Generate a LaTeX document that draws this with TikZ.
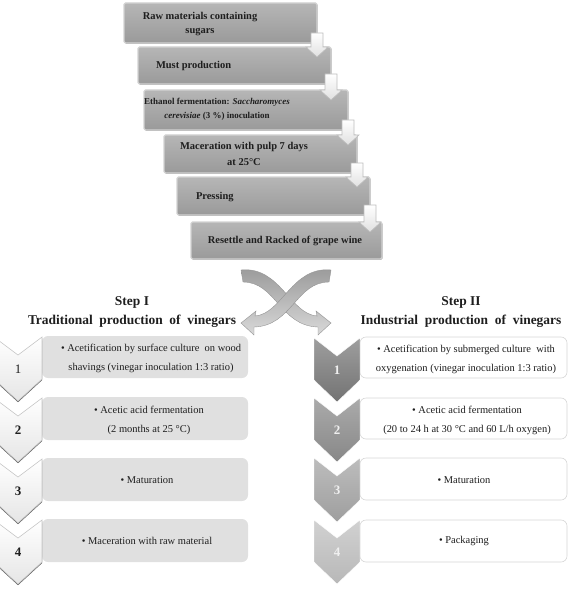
\documentclass[tikz,border=0pt]{standalone}
\usepackage{fontspec}
\setmainfont{Liberation Serif}
\usetikzlibrary{calc,shadows}
\definecolor{textc}{HTML}{1E1E1E}
\definecolor{tbtop}{HTML}{B6B6B6}
\definecolor{tbbot}{HTML}{9A9A9A}
\definecolor{tbborder}{HTML}{D2D2D2}
\definecolor{lboxc}{HTML}{E0E0E0}
\definecolor{rboxd}{HTML}{D6D6D6}
\definecolor{arrd}{HTML}{BDBDBD}
\newcommand\widesp{\spaceskip=0.5em\relax}
\newcommand\stairarrow[2]{%
 \coordinate (#1top) at ($(#1.south east)+(0,-10)$);
 \coordinate (#1tip) at ($(#1.south east |- #2.north)+(0,10)$);
 \path[stairarr] ($(#1top)+(-6,0)$) -- ($(#1top)+(6,0)$) -- ($(#1tip)+(6,-10)$) -- ($(#1tip)+(11,-10)$) -- (#1tip) -- ($(#1tip)+(-11,-10)$) -- ($(#1tip)+(-6,-10)$) -- cycle;}
% #1 name, #2 centre x, #3 top y, #4 half width, #5 style, #6 number style, #7 text
\newcommand\chevronstep[7]{%
 \path[#5] ({#2-#4},#3) -- (#2,{#3+18}) -- ({#2+#4},#3) -- ({#2+#4},{#3+42}) -- (#2,{#3+64}) -- ({#2-#4},{#3+42}) -- cycle;
 \node[#6] (#1) at (#2,{#3+32}) {#7};}
\begin{document}
\begin{tikzpicture}[x=1bp,y=-1bp,
  every node/.style={outer sep=0pt},
  topbox/.style={rectangle, rounded corners=1.5bp, draw=tbborder, line width=1.2bp, top color=tbtop, bottom color=tbbot, anchor=north west, drop shadow={shadow xshift=0.6bp, shadow yshift=-0.8bp, fill=black!45, opacity=0.8}},
  toptext/.style={font=\fontsize{10.5}{15}\selectfont\bfseries, align=center, text=textc, inner sep=0pt},
  stairarr/.style={top color=white, bottom color=black!12, draw=arrd, line width=0.6bp},
  headtext/.style={font=\fontsize{13.5}{20}\selectfont\bfseries, align=center, text=textc, inner sep=0pt},
  lbox/.style={rectangle, rounded corners=6bp, fill=lboxc, anchor=north west},
  rbox/.style={rectangle, rounded corners=6bp, fill=white, draw=rboxd, line width=0.6bp, anchor=north west},
  bodytext/.style={font=\fontsize{10.5}{19}\selectfont, align=center, text=textc, inner sep=0pt},
  lchev/.style={top color=white, bottom color=black!10, draw=black!22, line width=0.6bp, drop shadow={shadow xshift=0bp, shadow yshift=-1.2bp, fill=black!65, opacity=1}},
  lnum/.style={font=\fontsize{13}{13}\selectfont, text=textc, inner sep=0pt},
  lnumb/.style={lnum, font=\fontsize{13}{13}\selectfont\bfseries},
  rchev/.style={draw=white, line width=0.4bp},
  rnum/.style={font=\fontsize{13}{13}\selectfont\bfseries, text=black!6, inner sep=0pt},
  crossarr/.style={top color=black!40, bottom color=black!15, draw=black!42, line width=0.4bp}
]
\useasboundingbox (0,0) rectangle (569,593);
\clip (0,0) rectangle (569,593);
% top staircase boxes
\node[topbox, minimum width=193bp, minimum height=40bp] (b1) at (124,3) {};
\node[topbox, minimum width=193bp, minimum height=37bp] (b2) at (138,47) {};
\node[topbox, minimum width=204bp, minimum height=40bp] (b3) at (144,90) {};
\node[topbox, minimum width=193bp, minimum height=38bp] (b4) at (164,135) {};
\node[topbox, minimum width=193bp, minimum height=38bp] (b5) at (177,177) {};
\node[topbox, minimum width=191bp, minimum height=37bp] (b6) at (191,222) {};
\node[toptext] (t1) at (200,24) {Raw materials containing\\sugars};
\node[toptext, anchor=west] (t2) at (156,66) {Must production};
\node[toptext, font=\fontsize{9}{14}\selectfont\bfseries] (t3) at (217,109) {Ethanol fermentation: \textit{Saccharomyces}\\\textit{cerevisiae} (3 \%) inoculation};
\node[toptext, font=\fontsize{10.5}{16}\selectfont\bfseries] (t4) at (244,154) {Maceration with pulp 7 days\\at 25°C};
\node[toptext, anchor=west] (t5) at (196,197) {Pressing};
\node[toptext] (t6) at (285,241) {Resettle and Racked of grape wine};
\stairarrow{b1}{b2}
\stairarrow{b2}{b3}
\stairarrow{b3}{b4}
\stairarrow{b4}{b5}
\stairarrow{b5}{b6}
% crossing arrows
\path[crossarr] (241,270) .. controls (280,266) and (290,314) .. (317,316) -- (316,311) -- (331,323) -- (318,335) -- (318,327) .. controls (280,326) and (276,282) .. (243,282) -- cycle;
\path[crossarr] (331,270) .. controls (292,266) and (282,314) .. (255,316) -- (256,311) -- (241,323) -- (254,335) -- (254,327) .. controls (292,326) and (296,282) .. (329,282) -- cycle;
% headings
\node[headtext] (h1) at (132,312) {Step I\\\widesp Traditional production of vinegars};
\node[headtext] (h2) at (461,312) {Step II\\\widesp Industrial production of vinegars};
% left column
\node[lbox, minimum width=206bp, minimum height=42bp] (lb1) at (42,336) {};
\node[lbox, minimum width=206bp, minimum height=43bp] (lb2) at (42,397) {};
\node[lbox, minimum width=206bp, minimum height=43bp] (lb3) at (42,458) {};
\node[lbox, minimum width=206bp, minimum height=43bp] (lb4) at (42,519) {};
\node[bodytext] (lt1) at (151,358) {\textbullet\ Acetification by surface culture \ on wood\\shavings (vinegar inoculation 1:3 ratio)};
\node[bodytext] (lt2) at (149,420) {\textbullet\ Acetic acid fermentation\\(2 months at 25 °C)};
\node[bodytext] (lt3) at (147,480) {\textbullet\ Maturation};
\node[bodytext] (lt4) at (147,541) {\textbullet\ Maceration with raw material};
\chevronstep{lc1}{18}{337}{24}{lchev}{lnum}{1}
\chevronstep{lc2}{18}{398}{24}{lchev}{lnumb}{2}
\chevronstep{lc3}{18}{459}{24}{lchev}{lnumb}{3}
\chevronstep{lc4}{18}{520}{24}{lchev}{lnumb}{4}
% right column
\node[rbox, minimum width=207bp, minimum height=41bp] (rb1) at (360,337) {};
\node[rbox, minimum width=207bp, minimum height=41bp] (rb2) at (360,398) {};
\node[rbox, minimum width=207bp, minimum height=42bp] (rb3) at (360,458) {};
\node[rbox, minimum width=207bp, minimum height=42bp] (rb4) at (360,520) {};
\node[bodytext] (rt1) at (466,359) {\textbullet\ Acetification by submerged culture \ with\\oxygenation (vinegar inoculation 1:3 ratio)};
\node[bodytext] (rt2) at (467,420) {\textbullet\ Acetic acid fermentation\\(20 to 24 h at 30 °C and 60 L/h oxygen)};
\node[bodytext] (rt3) at (464,480) {\textbullet\ Maturation};
\node[bodytext] (rt4) at (464,541) {\textbullet\ Packaging};
\chevronstep{rc1}{337}{338}{23}{rchev, top color=black!38, bottom color=black!55}{rnum}{1}
\chevronstep{rc2}{337}{398}{23}{rchev, top color=black!33, bottom color=black!47}{rnum}{2}
\chevronstep{rc3}{337}{458}{23}{rchev, top color=black!26, bottom color=black!38}{rnum}{3}
\chevronstep{rc4}{337}{520}{23}{rchev, top color=black!18, bottom color=black!28}{rnum}{4}
\end{tikzpicture}
\end{document}
